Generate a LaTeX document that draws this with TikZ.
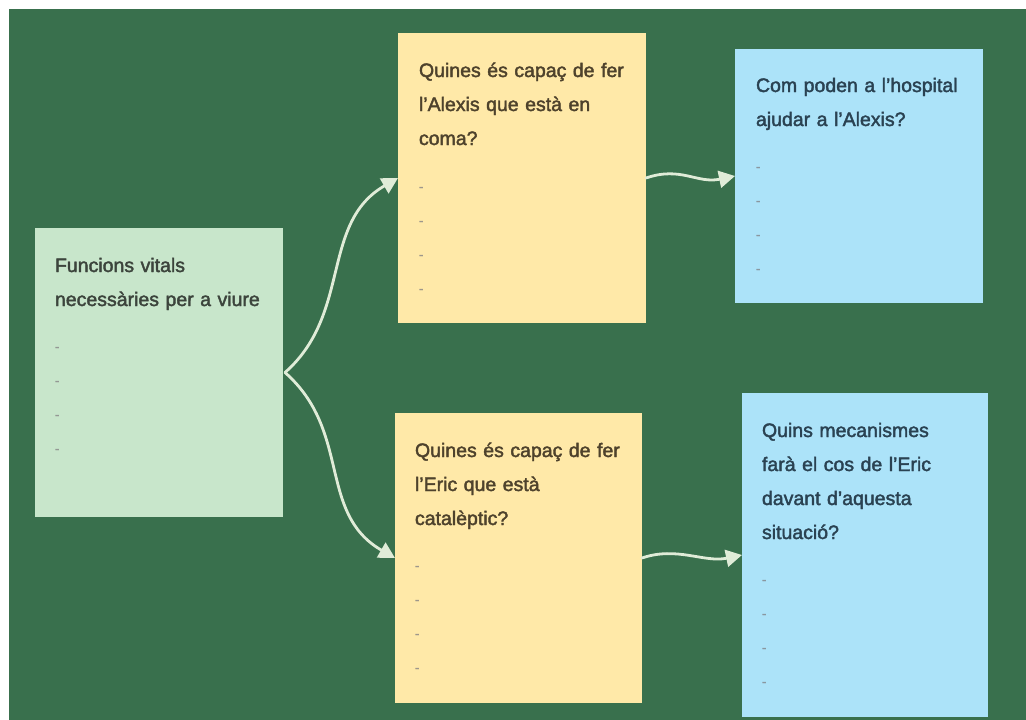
\documentclass[tikz,border=0pt]{standalone}
\usepackage{fontspec}
\newfontfamily\boxfont{Liberation Sans}[FakeBold=2]
\usetikzlibrary{arrows.meta,calc}
\definecolor{board}{RGB}{57,112,77}
\definecolor{mint}{RGB}{200,230,203}
\definecolor{sand}{RGB}{255,233,168}
\definecolor{sky}{RGB}{172,227,249}
\definecolor{chalk}{RGB}{224,236,216}
\definecolor{gtext}{RGB}{60,68,60}
\definecolor{ytext}{RGB}{78,66,44}
\definecolor{btext}{RGB}{42,66,82}
\newcommand\mydash{{\color{.!55!white}\fontsize{13}{34}\selectfont -}}
\newcommand\firstline{\rule{0pt}{20pt}}
\begin{document}
\begin{tikzpicture}[x=1pt,y=-1pt,
  card/.style={rectangle, inner sep=0pt, outer sep=0pt, anchor=north west},
  txt/.style={inner sep=0pt, outer sep=0pt, anchor=north west, align=left, text width=228pt,
    font=\boxfont\fontsize{19.5}{34}\selectfont},
  link/.style={draw=chalk, line width=2.8pt, line cap=round,
    -{Triangle[length=16pt,width=17pt]}}
]
\fill[white] (0,0) rectangle (1026,720);
\fill[board] (9,9) rectangle (1026,720);
\useasboundingbox (0,0) rectangle (1026,720);

% cards
\node[card, fill=mint, minimum width=248pt, minimum height=289pt] (g) at (35,228) {};
\node[card, fill=sand, minimum width=248pt, minimum height=290pt] (y1) at (398,33) {};
\node[card, fill=sky,  minimum width=248pt, minimum height=254pt] (b1) at (735,49) {};
\node[card, fill=sand, minimum width=247pt, minimum height=290pt] (y2) at (395,413) {};
\node[card, fill=sky,  minimum width=246pt, minimum height=324pt] (b2) at (742,393) {};

% texts
\node[txt, text=gtext] (gt) at ($(g.north west)+(20,24)$)
  {\firstline Funcions vitals\\necessàries per a viure\\[11pt]\mydash\\\mydash\\\mydash\\\mydash};
\node[txt, text=ytext] (y1t) at ($(y1.north west)+(21,24)$)
  {\firstline Quines és capaç de fer\\l’Alexis que està en\\coma?\\[12pt]\mydash\\\mydash\\\mydash\\\mydash};
\node[txt, text=btext] (b1t) at ($(b1.north west)+(21,23)$)
  {\firstline Com poden a l’hospital\\ajudar a l’Alexis?\\[11pt]\mydash\\\mydash\\\mydash\\\mydash};
\node[txt, text=ytext] (y2t) at ($(y2.north west)+(20,24)$)
  {\firstline Quines és capaç de fer\\l’Eric que està\\catalèptic?\\[11pt]\mydash\\\mydash\\\mydash\\\mydash};
\node[txt, text=btext] (b2t) at ($(b2.north west)+(20,24)$)
  {\firstline Quins mecanismes\\farà el cos de l’Eric\\davant d’aquesta\\situació?\\[11pt]\mydash\\\mydash\\\mydash\\\mydash};

% connectors
\coordinate (fork) at ($(g.east)+(2,0)$);
\draw[link] (fork) .. controls +(67,-59) and +(-78,45) .. (y1.west);
\draw[link] (fork) .. controls +(67,59) and +(-78,-45) .. (y2.west);
\draw[link] (y1.east) .. controls +(35,-12) and +(-38,8) .. (b1.west);
\draw[link] (y2.east) .. controls +(35,-12) and +(-38,8) .. (b2.west);
\end{tikzpicture}
\end{document}
